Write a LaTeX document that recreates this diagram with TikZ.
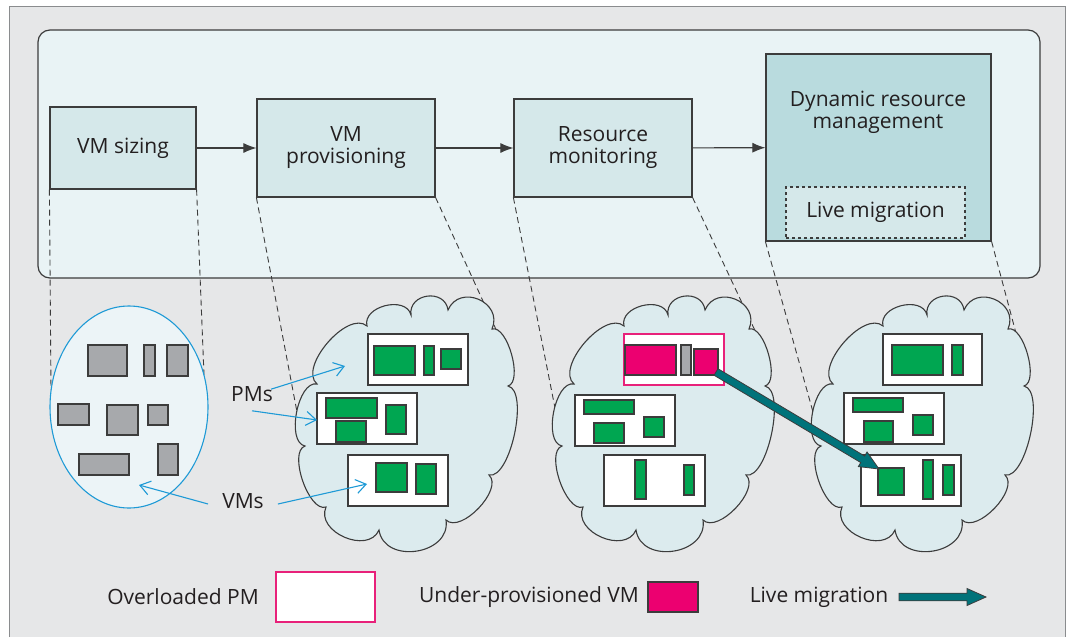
\documentclass[tikz,border=0pt]{standalone}
\usepackage{fontspec}
\setmainfont{Open Sans}
\usetikzlibrary{calc,arrows.meta,shapes.geometric,positioning}
\definecolor{framebg}{HTML}{E6E7E8}
\definecolor{framegray}{HTML}{8A8C8E}
\definecolor{panelfill}{HTML}{E9F3F5}
\definecolor{stepfill}{HTML}{D5E8EA}
\definecolor{drmfill}{HTML}{B9DBDE}
\definecolor{cloudfill}{HTML}{DCEBEE}
\definecolor{poolfill}{HTML}{ECF4F7}
\definecolor{poolblue}{HTML}{1E9AD6}
\definecolor{linegray}{HTML}{3C3C3C}
\definecolor{textgray}{HTML}{231F20}
\definecolor{vmgreen}{HTML}{00A651}
\definecolor{vmgray}{HTML}{A7A9AC}
\definecolor{vmmagenta}{HTML}{EC0070}
\definecolor{pmpink}{HTML}{E8217A}
\definecolor{migteal}{HTML}{00737A}
\tikzset{
    panel/.style={
    rectangle,rounded corners=12pt,draw=linegray,fill=panelfill,line width=1.2pt
    },
    stepbox/.style={
    rectangle,draw=linegray,fill=stepfill,line width=1.2pt,align=center,inner sep=0pt
    },
    flow/.style={
    draw=linegray,line width=1.1pt,-{Latex[length=13pt,width=10pt]}
    },
    dashline/.style={
    draw=linegray,line width=0.9pt,dash pattern=on 6pt off 4pt
    },
    pool/.style={
    ellipse,draw=poolblue,fill=poolfill,line width=1.1pt,
    minimum width=158pt,minimum height=202pt,inner sep=0pt
    },
    cloudpm/.style={
    draw=linegray,fill=cloudfill,line width=1.1pt
    },
    pm/.style={draw=linegray,fill=white,line width=1.2pt},
    opm/.style={draw=pmpink,fill=white,line width=1.2pt},
    vm/.style={draw=linegray,fill=vmgreen,line width=1.1pt},
    gvm/.style={draw=linegray,fill=vmgray,line width=1.1pt},
    uvm/.style={draw=linegray,fill=vmmagenta,line width=1.1pt},
    lbl/.style={inner sep=0pt,text=textgray},
    pointer/.style={draw=poolblue,line width=1.1pt,-{Straight Barb[length=10pt,width=14pt]}},
    migration/.style={draw=linegray,fill=migteal,line width=0.8pt},
}
% block arrow from #1 to #2
\newcommand{\liveArrow}[2]{%
  \coordinate (#1-h) at ($(#2)!19pt!(#1)$);
  \draw[migration] ($(#1)!3.8pt!90:(#2)$) -- ($(#1-h)!3.8pt!90:(#2)$)
    -- ($(#1-h)!8.5pt!90:(#2)$) -- (#2) -- ($(#1-h)!8.5pt!-90:(#2)$)
    -- ($(#1-h)!3.8pt!-90:(#2)$) -- ($(#1)!3.8pt!-90:(#2)$) -- cycle;
}
% cloud of PMs round the coordinate #1, one puff per segment
\newcommand{\pmCloud}[1]{%
  \draw[cloudpm, shift={(#1)}] (-39,-99)
    .. controls ($(-39,-99)!0.45!90:(5,-110)$) and ($(5,-110)!0.45!-90:(-39,-99)$) .. (5,-110)
    .. controls ($(5,-110)!0.59!90:(42,-115)$) and ($(42,-115)!0.59!-90:(5,-110)$) .. (42,-115)
    .. controls ($(42,-115)!0.61!90:(86,-96)$) and ($(86,-96)!0.61!-90:(42,-115)$) .. (86,-96)
    .. controls ($(86,-96)!0.27!90:(102,-39)$) and ($(102,-39)!0.27!-90:(86,-96)$) .. (102,-39)
    .. controls ($(102,-39)!0.24!90:(83,50)$) and ($(83,50)!0.24!-90:(102,-39)$) .. (83,50)
    .. controls ($(83,50)!0.33!90:(40,95)$) and ($(40,95)!0.33!-90:(83,50)$) .. (40,95)
    .. controls ($(40,95)!0.52!90:(-27,105)$) and ($(-27,105)!0.52!-90:(40,95)$) .. (-27,105)
    .. controls ($(-27,105)!0.47!90:(-80,82)$) and ($(-80,82)!0.47!-90:(-27,105)$) .. (-80,82)
    .. controls ($(-80,82)!0.28!90:(-101,21)$) and ($(-101,21)!0.28!-90:(-80,82)$) .. (-101,21)
    .. controls ($(-101,21)!0.31!90:(-89,-41)$) and ($(-89,-41)!0.31!-90:(-101,21)$) .. (-89,-41)
    .. controls ($(-89,-41)!0.33!90:(-39,-99)$) and ($(-39,-99)!0.33!-90:(-89,-41)$) .. (-39,-99)
    -- cycle;
}

\begin{document}
\begin{tikzpicture}[x=1pt,y=-1pt,font=\fontsize{21}{22}\selectfont,text=textgray]
  \useasboundingbox (0,0) rectangle (1075,637);
  \fill[framebg] (9,6) rectangle (1065,637);
  \draw[framegray,line width=1pt] (9,637) -- (9,6) -- (1065,6) -- (1065,637);
  \draw[panel] (38,30) rectangle (1040,278);

  \node[stepbox, minimum width=146pt, minimum height=82pt] (sizing) at (123,148) {VM sizing};
  \node[stepbox, minimum width=178pt, minimum height=98pt] (prov) at (346,148) {VM\\provisioning};
  \node[stepbox, minimum width=178pt, minimum height=98pt] (monitor) at (603,148) {Resource\\monitoring};
  \node[stepbox, fill=drmfill, minimum width=225pt, minimum height=187pt] (drm) at (878.5,147.5) {};
  \node[lbl, align=center] (drmlabel) at (878,112) {Dynamic resource\\management};
  \node[stepbox, dashed, minimum width=179pt, minimum height=51pt] (migr) at (875.5,212.5) {Live migration};

  \path
    (sizing) edge [flow] (prov)
    (prov) edge [flow] (monitor)
    (monitor) edge [flow] (drm);

  % where each stage is projected
  \coordinate (dA1) at (51,390);
  \coordinate (dA2) at (204,375);
  \coordinate (dB1) at (297,412);
  \coordinate (dB2) at (499,336);
  \coordinate (dC1) at (555,408);
  \coordinate (dC2) at (758,337);
  \coordinate (dD1) at (813,412);
  \coordinate (dD2) at (1017,337);
  \draw[dashline] (sizing.south west) -- (dA1);
  \draw[dashline] (sizing.south east) -- (dA2);
  \draw[dashline] (prov.south west) -- (dB1);
  \draw[dashline] (prov.south east) -- (dB2);
  \draw[dashline] (monitor.south west) -- (dC1);
  \draw[dashline] (monitor.south east) -- (dC2);
  \draw[dashline] (drm.south west) -- (dD1);
  \draw[dashline] (drm.south east) -- (dD2);

  \node[pool] (pool) at (129,407) {};
  \coordinate (cloudA) at (406,425);
  \coordinate (cloudB) at (663,425);
  \coordinate (cloudC) at (922,425);
  \pmCloud{cloudA}
  \pmCloud{cloudB}
  \pmCloud{cloudC}

  % VMs before placement
  \draw[gvm] (88,345) rectangle (127,376);
  \draw[gvm] (144,345) rectangle (155,376);
  \draw[gvm] (167,345) rectangle (188,376);
  \draw[gvm] (58,404) rectangle (89,425);
  \draw[gvm] (107,405) rectangle (138,435);
  \draw[gvm] (148,405) rectangle (168,425);
  \draw[gvm] (79,454) rectangle (129,475);
  \draw[gvm] (158,444) rectangle (178,475);

  % provisioned PMs
  \draw[pm] (368,334) rectangle (468,385);
  \draw[vm] (374,346) rectangle (415,375);
  \draw[vm] (424,346) rectangle (434,375);
  \draw[vm] (441,349) rectangle (461,369);
  \draw[pm] (317,393) rectangle (417,444);
  \draw[vm] (326,398) rectangle (377,418);
  \draw[vm] (336,421) rectangle (366,442);
  \draw[vm] (386,405) rectangle (406,434);
  \draw[pm] (348,455) rectangle (448,506);
  \draw[vm] (376,463) rectangle (407,492);
  \draw[vm] (416,464) rectangle (436,494);

  % monitored PMs
  \draw[opm] (624,334) rectangle (724,385);
  \draw[uvm] (625,345) rectangle (676,375);
  \draw[gvm] (681,345) rectangle (691,375);
  \draw[uvm] (694,349) rectangle (718,375);
  \draw[pm] (575,395) rectangle (675,446);
  \draw[vm] (584,400) rectangle (634,414);
  \draw[vm] (594,423) rectangle (624,443);
  \draw[vm] (644,417) rectangle (664,437);
  \draw[pm] (604,455) rectangle (705,506);
  \draw[vm] (635,460) rectangle (646,499);
  \draw[vm] (684,465) rectangle (694,495);

  % PMs after migration
  \draw[pm] (883,334) rectangle (982,385);
  \draw[vm] (892,345) rectangle (943,375);
  \draw[vm] (952,345) rectangle (963,375);
  \draw[pm] (844,393) rectangle (944,444);
  \draw[vm] (853,398) rectangle (903,412);
  \draw[vm] (864,421) rectangle (893,442);
  \draw[vm] (913,415) rectangle (933,435);
  \draw[pm] (861,455) rectangle (961,506);
  \draw[vm] (878,468) rectangle (904,495);
  \draw[vm] (923,460) rectangle (933,499);
  \draw[vm] (943,465) rectangle (954,495);

  \coordinate (migfrom) at (716,372);
  \coordinate (migto) at (879,469);
  \liveArrow{migfrom}{migto}

  % callouts
  \node[lbl] (pms) at (252,394) {PMs};
  \node[lbl] (vms) at (243,501) {VMs};
  \coordinate (pmtipA) at (345,366);
  \coordinate (pmtipB) at (317,420);
  \coordinate (vmtipA) at (139,485);
  \coordinate (vmtipB) at (367,484);
  \draw[pointer] ([xshift=-2pt,yshift=-3pt]pms.north east) -- (pmtipA);
  \draw[pointer] ([yshift=-9pt]pms.south) -- (pmtipB);
  \draw[pointer] ([xshift=-14pt,yshift=-3pt]vms.west) -- (vmtipA);
  \draw[pointer] ([xshift=14pt,yshift=-3pt]vms.east) -- (vmtipB);

  % legend
  \node[lbl] (lgol) at (183,597) {Overloaded PM};
  \node[opm, minimum width=99pt, minimum height=50pt] (lgpm) at (325.5,597) {};
  \node[lbl] (lguv) at (529,597) {Under-provisioned VM};
  \node[uvm, minimum width=50pt, minimum height=30pt] (lgvm) at (673,597) {};
  \node[lbl] (lglm) at (819,597) {Live migration};
  \coordinate (lga) at (899,597);
  \coordinate (lgb) at (986,597);
  \liveArrow{lga}{lgb}
\end{tikzpicture}
\end{document}
